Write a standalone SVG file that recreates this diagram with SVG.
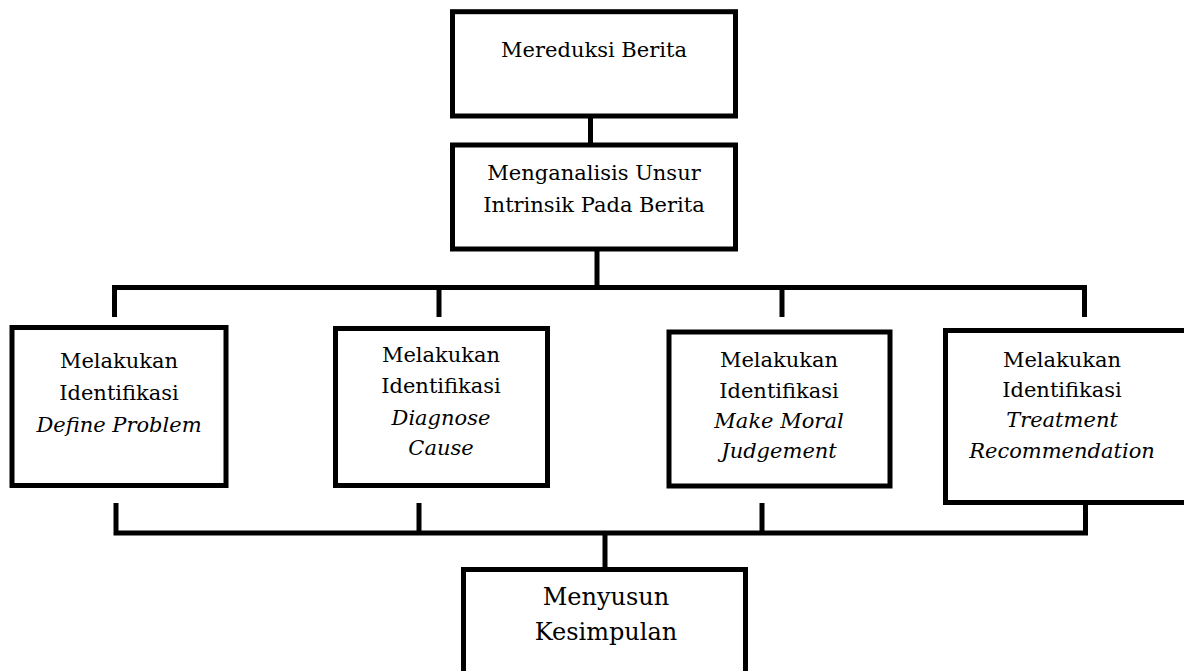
<svg xmlns="http://www.w3.org/2000/svg" width="1184" height="671" viewBox="0 0 1184 671">
<style>
.box{fill:#fff;stroke:#000;stroke-width:5;stroke-linejoin:miter}
.ln{fill:none;stroke:#000;stroke-width:5;stroke-linejoin:miter;stroke-linecap:butt}
text{font-family:"DejaVu Serif","Liberation Serif",serif;font-size:21px;fill:#000;text-anchor:middle}
.it{font-style:italic}
.big{font-size:24px}
</style>
<rect width="1184" height="671" fill="#fff"/>
<g id="connectors">
<line class="ln" x1="590.5" y1="116" x2="590.5" y2="145"/>
<line class="ln" x1="597" y1="249" x2="597" y2="287.5"/>
<polyline class="ln" points="114.5,317 114.5,287.5 1084.5,287.5 1084.5,317"/>
<line class="ln" x1="439" y1="287.5" x2="439" y2="317"/>
<line class="ln" x1="782" y1="287.5" x2="782" y2="317"/>
<polyline class="ln" points="116,503 116,533 1085.5,533 1085.5,502.5"/>
<line class="ln" x1="419" y1="503" x2="419" y2="533"/>
<line class="ln" x1="762" y1="503" x2="762" y2="533"/>
<line class="ln" x1="605" y1="533" x2="605" y2="569.5"/>
</g>
<g id="n1">
<rect class="box" x="452.5" y="11.7" width="283" height="104.3"/>
<text x="594" y="57">Mereduksi Berita</text>
</g>
<g id="n2">
<rect class="box" x="452.5" y="145" width="283" height="104"/>
<text x="594" y="180">Menganalisis Unsur</text>
<text x="594" y="212">Intrinsik Pada Berita</text>
</g>
<g id="n3">
<rect class="box" x="12" y="327.5" width="214" height="158"/>
<text x="119" y="368">Melakukan</text>
<text x="119" y="400">Identifikasi</text>
<text class="it" x="119" y="432">Define Problem</text>
</g>
<g id="n4">
<rect class="box" x="335.5" y="328.5" width="212" height="157"/>
<text x="441" y="362">Melakukan</text>
<text x="441" y="393">Identifikasi</text>
<text class="it" x="441" y="425">Diagnose</text>
<text class="it" x="441" y="455">Cause</text>
</g>
<g id="n5">
<rect class="box" x="669" y="332" width="221" height="154"/>
<text x="779" y="367">Melakukan</text>
<text x="779" y="398">Identifikasi</text>
<text class="it" x="779" y="428">Make Moral</text>
<text class="it" x="779" y="458">Judgement</text>
</g>
<g id="n6">
<rect class="box" x="945.5" y="330.5" width="245" height="172"/>
<text x="1062" y="367">Melakukan</text>
<text x="1062" y="397">Identifikasi</text>
<text class="it" x="1062" y="427">Treatment</text>
<text class="it" x="1062" y="458">Recommendation</text>
</g>
<g id="n7">
<rect class="box" x="463.5" y="569.5" width="282" height="120"/>
<text class="big" x="606" y="605">Menyusun</text>
<text class="big" x="606" y="640">Kesimpulan</text>
</g>
</svg>
